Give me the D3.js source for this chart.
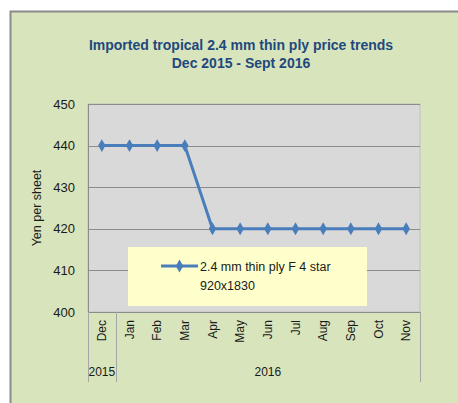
<!DOCTYPE html>
<html>
<head>
<meta charset="utf-8">
<script src="https://cdn.jsdelivr.net/npm/d3@7"></script>
<style>
  body { margin: 0; background: #fff; }
  svg text { font-family: "Liberation Sans", Arial, sans-serif; }
</style>
</head>
<body>
<div id="chart"></div>
<script>
// data
const months = ["Dec", "Jan", "Feb", "Mar", "Apr", "May", "Jun", "Jul", "Aug", "Sep", "Oct", "Nov"];
const years = [{ label: "2015", from: 0, to: 0 }, { label: "2016", from: 1, to: 11 }];
const prices = [440, 440, 440, 440, 420, 420, 420, 420, 420, 420, 420, 420];
const yTicks = [400, 410, 420, 430, 440, 450];
const seriesName = ["2.4 mm thin ply F 4 star", "920x1830"];
const titleLines = ["Imported tropical 2.4 mm thin ply price trends", "Dec 2015 - Sept 2016"];

const W = 458, H = 403;
const plot = { left: 88, right: 420, top: 104, bottom: 312 };

const svg = d3.select("#chart").append("svg")
  .attr("width", W)
  .attr("height", H);

// outer chart frame
svg.append("rect")
  .attr("x", 10.5).attr("y", 11.5)
  .attr("width", W + 10).attr("height", H + 10)
  .attr("fill", "#d8e4bc")
  .attr("stroke", "#8a8a8a")
  .attr("stroke-width", 2);

// title
svg.selectAll(".title")
  .data(titleLines)
  .join("text")
  .attr("class", "title")
  .attr("x", 241)
  .attr("y", (d, i) => 50 + i * 18)
  .attr("text-anchor", "middle")
  .attr("font-size", 14)
  .attr("font-weight", "bold")
  .attr("fill", "#1f497d")
  .text(d => d);

const x = d3.scaleBand()
  .domain(months)
  .range([plot.left, plot.right]);

const y = d3.scaleLinear()
  .domain([400, 450])
  .range([plot.bottom, plot.top]);

// plot area
svg.append("rect")
  .attr("x", plot.left).attr("y", plot.top)
  .attr("width", plot.right - plot.left).attr("height", plot.bottom - plot.top)
  .attr("fill", "#d9d9d9")
  .attr("stroke", "#bfbfbf");

// gridlines
svg.append("g")
  .selectAll("line")
  .data(yTicks)
  .join("line")
  .attr("x1", plot.left).attr("x2", plot.right)
  .attr("y1", d => Math.round(y(d)) + 0.5)
  .attr("y2", d => Math.round(y(d)) + 0.5)
  .attr("stroke", "#8c8c8c");

// y axis
const yAxis = svg.append("g")
  .attr("transform", `translate(${plot.left},0)`)
  .call(d3.axisLeft(y).tickValues(yTicks).tickSize(0).tickPadding(13));
yAxis.select(".domain").attr("stroke", "#8c8c8c");
yAxis.selectAll("text")
  .attr("font-size", 13)
  .attr("fill", "#1a1a1a")
  .style("font-family", "Liberation Sans, Arial, sans-serif");

svg.append("text")
  .attr("transform", `translate(41,${(plot.top + plot.bottom) / 2}) rotate(-90)`)
  .attr("text-anchor", "middle")
  .attr("font-size", 12.5)
  .attr("fill", "#1a1a1a")
  .text("Yen per sheet");

// x axis
const xAxis = svg.append("g")
  .attr("transform", `translate(0,${plot.bottom})`)
  .call(d3.axisBottom(x).tickSize(0).tickPadding(0));
xAxis.select(".domain").attr("stroke", "#8c8c8c");
xAxis.selectAll("text")
  .attr("transform", null)
  .attr("y", null).attr("dy", null)
  .attr("x", null)
  .attr("text-anchor", "end")
  .attr("font-size", 12)
  .attr("fill", "#1a1a1a")
  .style("font-family", "Liberation Sans, Arial, sans-serif")
  .attr("transform", "translate(4,8) rotate(-90)");

// year groups
const sepX = [plot.left, x(months[1]), plot.right];
svg.append("g")
  .selectAll("line")
  .data(sepX)
  .join("line")
  .attr("x1", d => Math.round(d) + 0.5).attr("x2", d => Math.round(d) + 0.5)
  .attr("y1", plot.bottom).attr("y2", 382)
  .attr("stroke", "#a6a6a6");

svg.append("g")
  .selectAll("text")
  .data(years)
  .join("text")
  .attr("x", d => (x(months[d.from]) + x(months[d.to]) + x.bandwidth()) / 2)
  .attr("y", 376)
  .attr("text-anchor", "middle")
  .attr("font-size", 12)
  .attr("fill", "#1a1a1a")
  .text(d => d.label);

// legend
const legend = svg.append("g");
legend.append("rect")
  .attr("x", 128).attr("y", 247)
  .attr("width", 239).attr("height", 59)
  .attr("fill", "#ffffcc");

// series line
const line = d3.line()
  .x((d, i) => x(months[i]) + x.bandwidth() / 2)
  .y(d => y(d));

svg.append("path")
  .datum(prices)
  .attr("d", line)
  .attr("fill", "none")
  .attr("stroke", "#4a7ebb")
  .attr("stroke-width", 3)
  .attr("stroke-linejoin", "round");

const diamond = d3.symbol().type(d3.symbolDiamond).size(48);
svg.append("g")
  .selectAll("path")
  .data(prices)
  .join("path")
  .attr("transform", (d, i) => `translate(${x(months[i]) + x.bandwidth() / 2},${y(d)})`)
  .attr("d", diamond)
  .attr("fill", "#4a7ebb");

legend.append("line")
  .attr("x1", 161).attr("x2", 198)
  .attr("y1", 266).attr("y2", 266)
  .attr("stroke", "#4a7ebb")
  .attr("stroke-width", 3);
legend.append("path")
  .attr("transform", "translate(179.5,266)")
  .attr("d", diamond)
  .attr("fill", "#4a7ebb");
legend.selectAll("text")
  .data(seriesName)
  .join("text")
  .attr("x", 200)
  .attr("y", (d, i) => 271 + i * 19)
  .attr("font-size", 12.5)
  .attr("fill", "#1a1a1a")
  .text(d => d);
</script>
</body>
</html>
